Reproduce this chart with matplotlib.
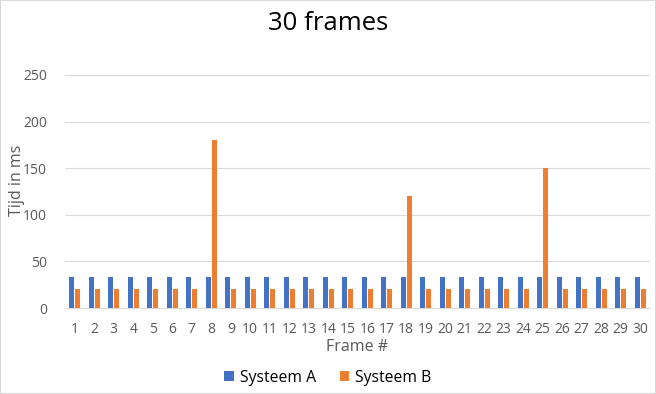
import matplotlib
matplotlib.use("Agg")
import matplotlib.pyplot as plt
import numpy as np
from matplotlib.patches import Rectangle

frames = [str(i) for i in range(1, 31)]
systeem_a = [33] * 30
systeem_b = [20, 20, 20, 20, 20, 20, 20, 180, 20, 20,
             20, 20, 20, 20, 20, 20, 20, 120, 20, 20,
             20, 20, 20, 20, 150, 20, 20, 20, 20, 20]
yticks = [0, 50, 100, 150, 200, 250]

plt.rcParams['font.family'] = ['Open Sans', 'DejaVu Sans']
grey = '#595959'

fig = plt.figure(figsize=(6.56, 3.94), dpi=100)
ax = fig.add_axes([65/656, (394-308)/394, (650-65)/656, (308-75)/394])

x = np.arange(len(frames))
w = 0.25
ax.bar(x - 0.16, systeem_a, w, color='#4472C4', label='Systeem A', zorder=3)
ax.bar(x + 0.16, systeem_b, w, color='#ED7D31', label='Systeem B', zorder=3)

ax.set_xlim(-0.5, len(frames) - 0.5)
ax.set_ylim(0, 250)
ax.set_yticks(yticks)
ax.set_xticks(x)
ax.set_xticklabels(frames)
ax.grid(axis='y', color='#D9D9D9', linewidth=0.8, zorder=0)
for s in ['top', 'right', 'left']:
    ax.spines[s].set_visible(False)
ax.spines['bottom'].set_color('#D9D9D9')
ax.tick_params(axis='both', length=0, colors=grey, labelsize=10)
ax.tick_params(axis='y', pad=13)
ax.tick_params(axis='x', pad=10)

ax.set_ylabel('Tijd in ms', color=grey, fontsize=11.5)
ax.yaxis.set_label_coords(-(65 - 17) / 585, (308 - 180) / 233)
ax.set_xlabel('Frame #', color=grey, fontsize=11.5)
ax.xaxis.set_label_coords(0.5, -(347 - 308) / 233)
ax.xaxis.label.set_va('center')
ax.yaxis.label.set_va('center')

fig.text(0.5, 1 - 24/394, '30 frames', ha='center', va='center', fontsize=18.5, color='black')

leg = fig.legend(loc='center', bbox_to_anchor=(0.5, 1 - 378/394), ncol=2, frameon=False,
                 fontsize=11.3, handlelength=0.6, handleheight=0.6, handletextpad=0.4,
                 columnspacing=1.5)
for t in leg.get_texts():
    t.set_color('black')

fig.patches.append(Rectangle((0, 0), 1, 1, transform=fig.transFigure, fill=False,
                             edgecolor='#D9D9D9', linewidth=1.5))

fig.savefig('out.png', dpi=100)
